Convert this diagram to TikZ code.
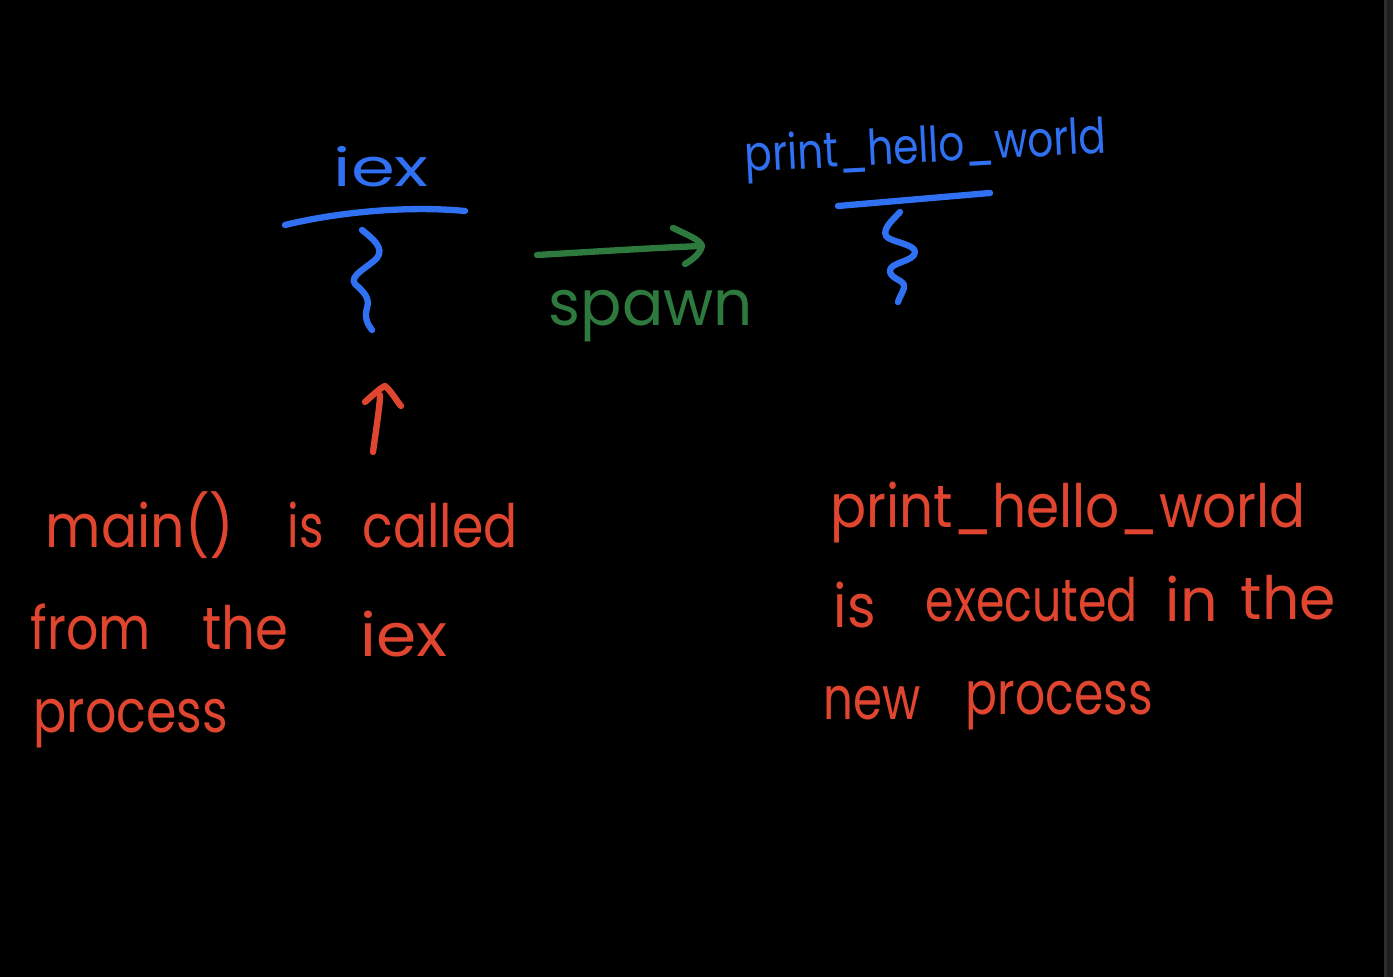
\documentclass[tikz,border=0pt]{standalone}
\usepackage{fontspec}
\setmainfont{Poppins}
\usepackage{graphicx}
\definecolor{inkblue}{HTML}{3070F2}
\definecolor{inkred}{HTML}{E0452F}
\definecolor{inkgreen}{HTML}{2E7A3E}
\definecolor{edgegray}{HTML}{1E1E1E}
\definecolor{edgeline}{HTML}{2C2C2C}
\newcommand{\fitw}[2]{\resizebox{#1}{\height}{#2}}
\begin{document}
\begin{tikzpicture}[x=0.01cm,y=-0.01cm,
  pen/.style={line width=1.8pt,line cap=round,line join=round},
  bluepen/.style={pen,draw=inkblue},
  redpen/.style={pen,draw=inkred},
  greenpen/.style={pen,draw=inkgreen},
  hand/.style={inner sep=0pt,anchor=base west},
  bluetext/.style={hand,text=inkblue},
  redtext/.style={hand,text=inkred,font=\fontsize{17}{19}\selectfont},
  greentext/.style={hand,text=inkgreen}]
\useasboundingbox (0,0) rectangle (1393,977);
\fill[black] (0,0) rectangle (1393,977);
\fill[edgegray] (1385,0) rectangle (1393,977);
\draw[edgeline,line width=0.6pt] (1385.5,0) -- (1385.5,977);

% --- iex process ---
\node[bluetext,font=\fontsize{15}{17}\selectfont] (iex) at (333,187) {\fitw{0.95cm}{iex}};
\coordinate (iexL) at (285,225);
\coordinate (iexR) at (465,211);
\draw[bluepen] (iexL) .. controls (330,214) and (400,205) .. (iexR);
\coordinate (iexT) at (362,230);
\coordinate (iexB) at (372,330);
\draw[bluepen] (iexT) .. controls (372,238) and (385,248) .. (377,258)
  .. controls (370,266) and (348,276) .. (355,284)
  .. controls (364,292) and (370,298) .. (367,308)
  .. controls (364,318) and (368,325) .. (iexB);

% --- spawned process ---
\node[bluetext,font=\fontsize{14}{16}\selectfont,rotate=3] (phw) at (745,172) {\fitw{3.62cm}{print\_hello\_world}};
\coordinate (phwL) at (838,206);
\coordinate (phwR) at (990,193);
\draw[bluepen] (phwL) -- (phwR);
\coordinate (phwT) at (900,212);
\coordinate (phwB) at (898,302);
\draw[bluepen] (phwT) .. controls (895,218) and (882,228) .. (886,236)
  .. controls (890,242) and (915,244) .. (915,252)
  .. controls (915,262) and (888,262) .. (890,272)
  .. controls (892,280) and (906,280) .. (904,288)
  .. controls (902,294) and (899,298) .. (phwB);

% --- spawn arrow ---
\coordinate (spA) at (537,255);
\coordinate (spB) at (702,246);
\draw[greenpen] (spA) .. controls (590,252) and (650,248) .. (spB);
\draw[greenpen] (673,228) .. controls (690,236) and (700,240) .. (spB)
  .. controls (700,254) and (692,260) .. (685,264);
\node[greentext,font=\fontsize{18}{20}\selectfont] (spawn) at (548,326) {\fitw{2.04cm}{spawn}};

% --- red arrow ---
\coordinate (raTail) at (373,452);
\coordinate (raTip) at (385,386);
\draw[redpen] (raTail) .. controls (376,430) and (380,405) .. (380,395);
\draw[redpen] (365,402) .. controls (372,396) and (380,388) .. (raTip)
  .. controls (392,392) and (396,400) .. (401,406);

% --- red notes, left ---
\node[redtext] (m1a) at (45,548) {\fitw{1.88cm}{main()}};
\node[redtext] (m1b) at (287,548) {\fitw{0.36cm}{is}};
\node[redtext] (m1c) at (362,548) {\fitw{1.55cm}{called}};
\node[redtext] (m2a) at (30,650) {\fitw{1.20cm}{from}};
\node[redtext] (m2b) at (202,650) {\fitw{0.86cm}{the}};
\node[redtext] (m2c) at (360,657) {\fitw{0.87cm}{iex}};
\node[redtext] (m3) at (33,733) {\fitw{1.94cm}{process}};

% --- red notes, right ---
\node[redtext] (n1) at (830,528) {\fitw{4.75cm}{print\_hello\_world}};
\node[redtext] (n2a) at (833,628) {\fitw{0.42cm}{is}};
\node[redtext] (n2b) at (925,622) {\fitw{2.12cm}{executed}};
\node[redtext] (n2c) at (1165,622) {\fitw{0.52cm}{in}};
\node[redtext] (n2d) at (1240,620) {\fitw{0.95cm}{the}};
\node[redtext] (n3a) at (823,720) {\fitw{0.97cm}{new}};
\node[redtext] (n3b) at (965,715) {\fitw{1.87cm}{process}};
\end{tikzpicture}
\end{document}
